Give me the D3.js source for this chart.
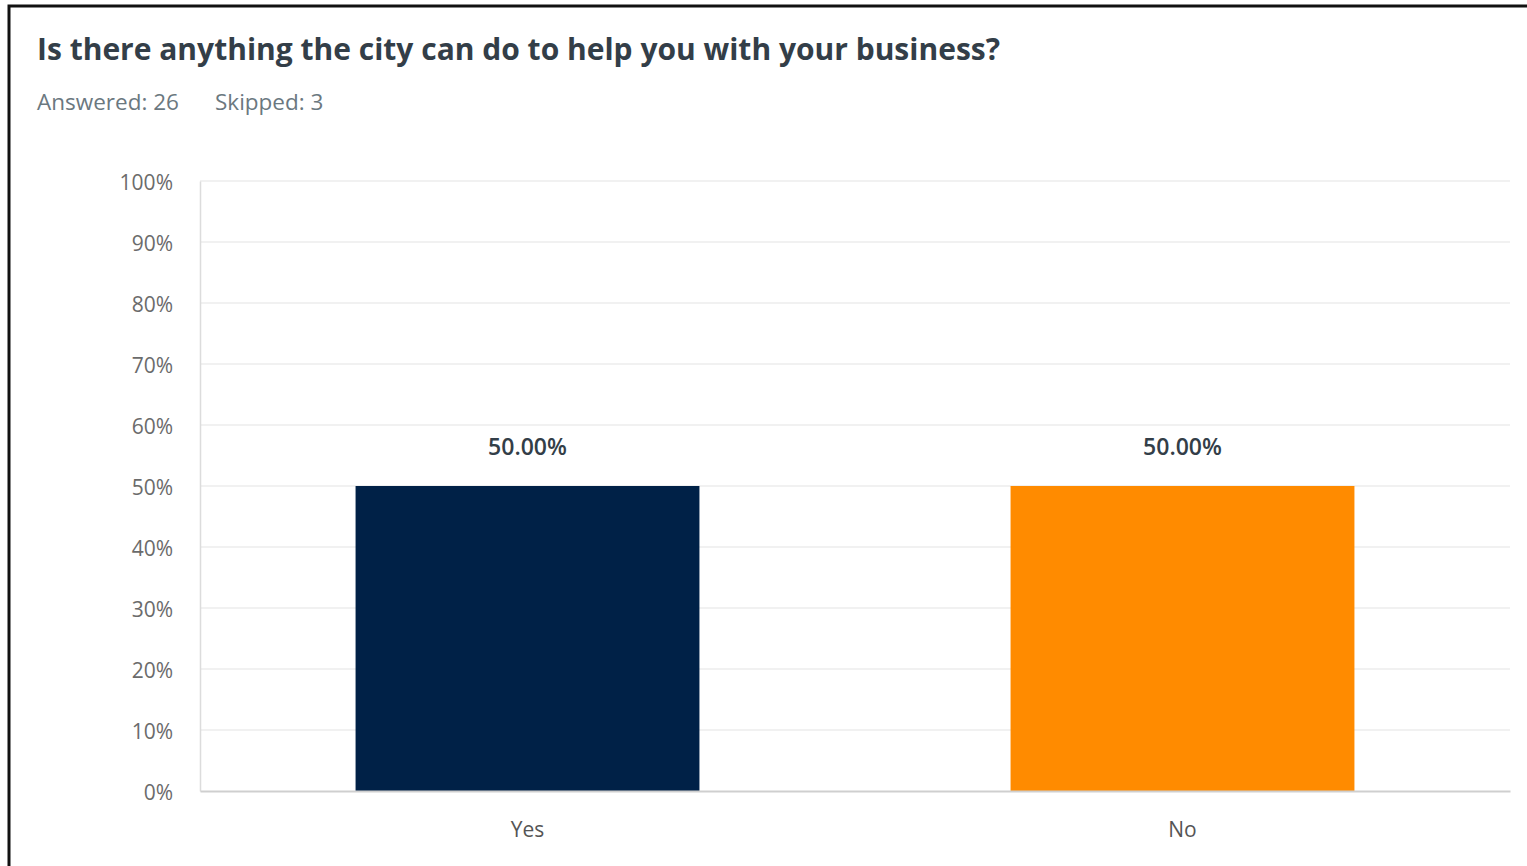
<!DOCTYPE html>
<html>
<head>
<meta charset="utf-8">
<script src="https://cdn.jsdelivr.net/npm/d3@7"></script>
<style>
  html, body { margin: 0; padding: 0; background: #fff; }
  svg { display: block; }
  text { font-family: "Open Sans", "Noto Sans", sans-serif; }
</style>
</head>
<body>
<svg id="chart" width="1527" height="866"></svg>
<script>
const title = "Is there anything the city can do to help you with your business?";
const answeredLabel = "Answered: 26";
const skippedLabel = "Skipped: 3";
const categories = ["Yes", "No"];
const values = [50.00, 50.00];
const colors = ["#002147", "#ff8b00"];
const yTicks = [0, 10, 20, 30, 40, 50, 60, 70, 80, 90, 100];

(function () {
const svg = d3.select("#chart");
const W = 1527, H = 866;

// frame
svg.append("rect").attr("x", 0).attr("y", 0).attr("width", W).attr("height", H).attr("fill", "#fff");
svg.append("path")
  .attr("d", `M9,${H} L9,6 L${W},6`)
  .attr("fill", "none").attr("stroke", "#111").attr("stroke-width", 3);

svg.append("text").attr("x", 37).attr("y", 60)
  .attr("font-size", 30).attr("font-weight", 700).attr("fill", "#333e48")
  .text(title);
svg.append("text").attr("x", 37).attr("y", 110)
  .attr("font-size", 22.5).attr("fill", "#6b787f").text(answeredLabel);
svg.append("text").attr("x", 215).attr("y", 110)
  .attr("font-size", 22.5).attr("fill", "#6b787f").text(skippedLabel);

const mLeft = 200, mRight = 1510, mTop = 181, mBottom = 791;
const y = d3.scaleLinear().domain([0, 100]).range([mBottom, mTop]);
const x = d3.scaleBand().domain(categories).range([mLeft, mRight])
  .paddingInner(0.475).paddingOuter(0.2375);

// gridlines
svg.append("g").selectAll("line").data(yTicks.filter(d => d > 0)).join("line")
  .attr("x1", mLeft).attr("x2", mRight)
  .attr("y1", d => y(d)).attr("y2", d => y(d))
  .attr("stroke", "#ececec").attr("stroke-width", 1.5);

// y axis
const yAxis = d3.axisLeft(y).tickValues(yTicks).tickFormat(d => d + "%").tickSize(0).tickPadding(27);
const gy = svg.append("g").attr("transform", `translate(${mLeft},0)`).call(yAxis);
gy.select(".domain").attr("stroke", "#dcdcdc").attr("stroke-width", 1.5);
gy.selectAll("text").attr("font-size", 21).attr("fill", "#6b6b6b")
  .attr("font-family", "'Open Sans', sans-serif")
  .attr("dy", "0.4em");

// bars
svg.append("g").selectAll("rect").data(categories).join("rect")
  .attr("x", d => x(d)).attr("width", x.bandwidth())
  .attr("y", (d, i) => y(values[i])).attr("height", (d, i) => y(0) - y(values[i]))
  .attr("fill", (d, i) => colors[i]);

// x axis
const xAxis = d3.axisBottom(x).tickSize(0).tickPadding(31);
const gx = svg.append("g").attr("transform", `translate(0,${mBottom})`).call(xAxis);
gx.select(".domain").attr("stroke", "#cfcfcf").attr("stroke-width", 2);
gx.selectAll("text").attr("font-size", 21).attr("fill", "#555")
  .attr("font-family", "'Open Sans', sans-serif");

// value labels
svg.append("g").selectAll("text").data(categories).join("text")
  .attr("x", d => x(d) + x.bandwidth() / 2)
  .attr("y", (d, i) => y(values[i]) - 31)
  .attr("text-anchor", "middle")
  .attr("font-size", 23).attr("font-weight", 600).attr("fill", "#333e48")
  .text((d, i) => values[i].toFixed(2) + "%");
})();
</script>
</body>
</html>
